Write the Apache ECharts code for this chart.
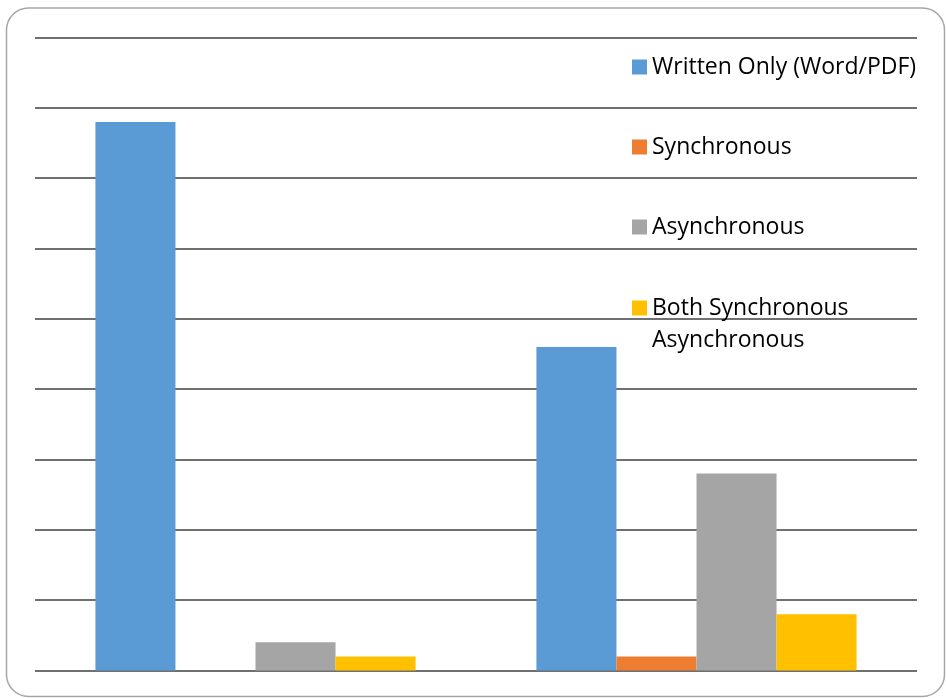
<!DOCTYPE html>
<html>
<head>
<meta charset="utf-8">
<script src="https://cdn.jsdelivr.net/npm/echarts@6/dist/echarts.min.js"></script>
<style>
  html, body { margin: 0; padding: 0; background: #fff; }
  #chart { width: 946px; height: 698px; }
</style>
</head>
<body>
<div id="chart"></div>
<script>
// two groups, category labels are not shown on the original
var categories = ["Group 1", "Group 2"];
var seriesNames = ["Written Only (Word/PDF)", "Synchronous", "Asynchronous", "Both Synchronous Asynchronous"];
var writtenOnly = [39, 23];
var synchronous = [0, 1];
var asynchronous = [2, 14];
var bothSyncAsync = [1, 4];
var colors = ["#5B9BD5", "#ED7D31", "#A5A5A5", "#FFC000"];

var chart = echarts.init(document.getElementById("chart"));

// legend entries sit on the right, each one placed by hand
var legendCenters = [67, 147, 227, 308];
var legends = seriesNames.map(function (name, i) {
  var last = i === seriesNames.length - 1;
  return {
    data: [name],
    orient: "vertical",
    left: 632,
    top: last ? legendCenters[i] - 48 : legendCenters[i] - 16,
    padding: 0,
    itemWidth: 15,
    itemHeight: 15,
    icon: "rect",
    selectedMode: false,
    formatter: function (n) {
      return last ? "\n" + n.replace(" Asynchronous", "\nAsynchronous") : n;
    },
    textStyle: {
      fontFamily: "Open Sans",
      fontSize: 23,
      lineHeight: 32,
      color: "#000"
    }
  };
});

var data = [writtenOnly, synchronous, asynchronous, bothSyncAsync];

var option = {
  animation: false,
  backgroundColor: "#fff",
  color: colors,
  graphic: [{
    type: "rect",
    shape: { x: 6.5, y: 8, width: 938, height: 688.5, r: 22 },
    style: { fill: "none", stroke: "#a6a6a6", lineWidth: 1.5 },
    silent: true
  }],
  legend: legends,
  grid: { left: 35, right: 29, top: 37.5, bottom: 27.5 },
  xAxis: {
    type: "category",
    data: categories,
    axisLine: { show: false },
    axisTick: { show: false },
    axisLabel: { show: false }
  },
  yAxis: {
    type: "value",
    min: 0,
    max: 45,
    interval: 5,
    axisLine: { show: false },
    axisTick: { show: false },
    axisLabel: { show: false },
    splitLine: { lineStyle: { color: "#404040", width: 1.5 } }
  },
  series: seriesNames.map(function (name, i) {
    return {
      name: name,
      type: "bar",
      data: data[i],
      barGap: "0%",
      barCategoryGap: "27.4%",
      itemStyle: { color: colors[i] }
    };
  })
};

chart.setOption(option);
</script>
</body>
</html>
